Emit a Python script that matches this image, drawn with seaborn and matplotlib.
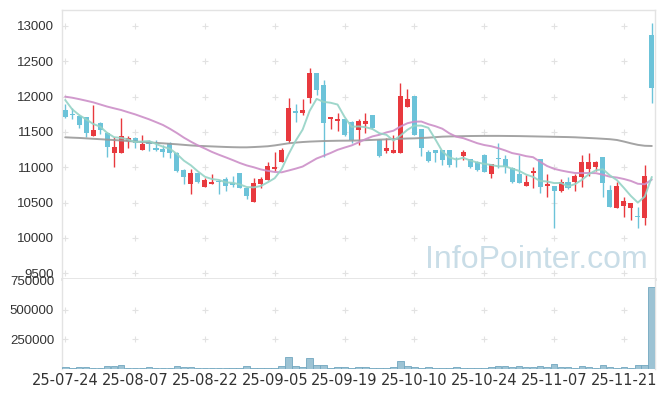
import numpy as np
import pandas as pd
import matplotlib
matplotlib.use("Agg")
import matplotlib.pyplot as plt
import seaborn as sns

# ---------------- data ----------------
opens = [11811, 11750, 11726, 11708, 11448, 11632, 11481, 11198, 11198, 11377,
         11410, 11245, 11363, 11269, 11259, 11349, 11207, 10962, 10764, 10915,
         10726, 10769, 10811, 10835, 10783, 10915, 10712, 10514, 10764, 10821,
         10976, 11080, 11373, 11797, 11764, 11976, 12330, 12165, 11684, 11656,
         11679, 11646, 11528, 11613, 11740, 11387, 11231, 11198, 11198, 11858,
         12009, 11538, 11222, 11245, 11245, 11245, 11132, 11165, 11113, 11080,
         11175, 10906, 11118, 11113, 10986, 10906, 10741, 10915, 11113, 10741,
         10741, 10670, 10797, 10788, 10858, 10972, 11009, 11141, 10679, 10420,
         10458, 10420, 10311, 10278, 12873]
highs = [11900, 11835, 11740, 11717, 11882, 11646, 11505, 11434, 11693, 11443,
         11425, 11457, 11387, 11387, 11316, 11363, 11222, 10972, 10972, 10915,
         10844, 10900, 10821, 10868, 10877, 10924, 10726, 10844, 10858, 11080,
         11212, 11269, 11976, 11891, 11962, 12401, 12330, 12236, 11717, 11764,
         11684, 11656, 11679, 11774, 11745, 11396, 11410, 11458, 12189, 12104,
         12009, 11538, 11245, 11250, 11245, 11250, 11150, 11245, 11120, 11090,
         11190, 11050, 11340, 11175, 11009, 11175, 10892, 11009, 11113, 10906,
         10741, 10830, 10868, 10906, 11175, 11198, 11094, 11141, 10750, 10797,
         10585, 10500, 10434, 11033, 13038]
lows = [11700, 11680, 11552, 11434, 11448, 11472, 11151, 11009, 11198, 11269,
        11269, 11245, 11236, 11236, 11141, 11127, 10939, 10764, 10618, 10774,
        10726, 10769, 10623, 10665, 10726, 10703, 10547, 10514, 10712, 10821,
        10953, 11070, 11340, 11646, 11740, 11906, 12024, 11151, 11538, 11514,
        11443, 11340, 11316, 11490, 11547, 11141, 11198, 11198, 11198, 11858,
        11458, 11160, 11080, 11080, 11033, 11009, 11009, 11104, 10986, 10953,
        10930, 10844, 10986, 10915, 10783, 10774, 10741, 10703, 10632, 10585,
        10137, 10656, 10689, 10670, 10717, 10877, 10953, 10585, 10443, 10420,
        10302, 10255, 10137, 10184, 11915]
closes = [11717, 11735, 11600, 11490, 11528, 11528, 11292, 11292, 11443, 11420,
          11340, 11330, 11325, 11245, 11217, 11198, 10953, 10858, 10915, 10788,
          10821, 10788, 10797, 10741, 10755, 10712, 10599, 10774, 10835, 11019,
          11005, 11245, 11835, 11773, 11811, 12330, 12094, 11623, 11712, 11684,
          11458, 11387, 11656, 11656, 11552, 11160, 11278, 11245, 12009, 11962,
          11458, 11278, 11090, 11198, 11104, 11033, 11127, 11212, 11009, 10962,
          10939, 11047, 11113, 11009, 10797, 10783, 10788, 10948, 10717, 10764,
          10670, 10797, 10703, 10877, 11071, 11071, 11071, 10774, 10443, 10736,
          10524, 10500, 10302, 10877, 12118]
volumes = [14000, 6000, 14000, 14000, 6000, 6000, 23000, 23000, 31000, 6000,
           6000, 6000, 14000, 6000, 6000, 6000, 23000, 14000, 14000, 6000,
           2000, 1000, 6000, 1000, 2000, 6000, 23000, 6000, 2000, 6000,
           2000, 23000, 99000, 23000, 14000, 90000, 31000, 31000, 6000, 14000,
           14000, 6000, 14000, 14000, 6000, 6000, 6000, 14000, 62000, 23000,
           14000, 6000, 14000, 6000, 6000, 6000, 14000, 6000, 6000, 6000,
           6000, 14000, 23000, 23000, 14000, 23000, 14000, 14000, 23000, 14000,
           42000, 14000, 14000, 6000, 23000, 14000, 6000, 28000, 14000, 6000,
           14000, 6000, 28000, 34000, 690000]
# moving-average values before enough history is visible
ma5_head = [11953, 11821, 11740, 11679]
ma20_head = [12000, 11985, 11965, 11943, 11920, 11890, 11860, 11835, 11811, 11780,
             11750, 11715, 11680, 11640, 11599, 11545, 11485, 11420, 11363]
ma_long = [11425, 11420, 11416, 11410, 11404, 11398, 11392, 11386, 11380, 11372,
           11365, 11358, 11352, 11346, 11340, 11333, 11326, 11318, 11310, 11304,
           11300, 11296, 11292, 11288, 11285, 11283, 11283, 11287, 11292, 11298,
           11310, 11325, 11340, 11350, 11358, 11364, 11368, 11372, 11374, 11376,
           11377, 11378, 11380, 11384, 11388, 11392, 11396, 11400, 11404, 11408,
           11410, 11415, 11420, 11427, 11434, 11437, 11439, 11441, 11443, 11444,
           11445, 11445, 11445, 11444, 11443, 11442, 11440, 11438, 11436, 11434,
           11432, 11430, 11428, 11425, 11420, 11415, 11410, 11404, 11398, 11387,
           11365, 11340, 11318, 11305, 11302]
date_tick_pos = [0, 10, 20, 30, 40, 50, 60, 70, 80]
date_tick_labels = ["25-07-24", "25-08-07", "25-08-22", "25-09-05", "25-09-19",
                    "25-10-10", "25-10-24", "25-11-07", "25-11-21"]
price_ticks = [9500, 10000, 10500, 11000, 11500, 12000, 12500, 13000]
volume_ticks = [250000, 500000, 750000]

# ---------------- styling ----------------
UP = "#e8393e"
DOWN = "#6cc3d9"
C_MA5 = "#95d3c6"
C_MA20 = "#cc8fc8"
C_LONG = "#9a9a9a"
SPINE = "#e3e3e3"
TXT = "#333333"

sns.set_theme(style="white")
plt.rcParams["font.family"] = ["Liberation Sans", "DejaVu Sans"]

df = pd.DataFrame({"i": np.arange(len(closes)), "o": opens, "h": highs,
                   "l": lows, "c": closes, "v": volumes})
n = len(df)
ma5 = df["c"].rolling(5).mean().to_numpy()
ma5[:len(ma5_head)] = ma5_head
ma20 = df["c"].rolling(20).mean().to_numpy()
ma20[:len(ma20_head)] = ma20_head
df["ma5"] = ma5
df["ma20"] = ma20
df["malong"] = ma_long

fig = plt.figure(figsize=(6.65, 3.96), dpi=100)
ax = fig.add_axes([0.0928, 0.2962, 0.8926, 0.6785])
axv = fig.add_axes([0.0928, 0.0694, 0.8926, 0.2268])

# grid crosses
gx, gy = np.meshgrid(date_tick_pos, price_ticks)
ax.scatter(gx.ravel(), gy.ravel(), marker="+", s=16, color="#e2e2e2",
           linewidths=0.8, zorder=0.5, clip_on=False)
gx2, gy2 = np.meshgrid(date_tick_pos, volume_ticks[:2])
axv.scatter(gx2.ravel(), gy2.ravel(), marker="+", s=16, color="#e2e2e2",
            linewidths=0.8, zorder=0.5)

# candles
up = df["c"] >= df["o"]
cols = np.where(up, UP, DOWN)
ax.vlines(df["i"], df["l"], df["h"], colors=cols, linewidth=1.0, zorder=2)
body_lo = np.minimum(df["o"], df["c"])
body_h = np.maximum(np.abs(df["c"] - df["o"]), 12)
ax.bar(df["i"], body_h, bottom=body_lo, width=0.72, color=cols,
       linewidth=0, zorder=3)

# moving averages
sns.lineplot(data=df, x="i", y="malong", ax=ax, color=C_LONG, linewidth=1.4,
             alpha=0.9, zorder=4)
sns.lineplot(data=df, x="i", y="ma20", ax=ax, color=C_MA20, linewidth=1.4,
             alpha=0.9, zorder=4)
sns.lineplot(data=df, x="i", y="ma5", ax=ax, color=C_MA5, linewidth=1.4,
             alpha=0.9, zorder=5)

# watermark
ax.text(648 / 665, 1 - 268 / 396, "InfoPointer.com", transform=fig.transFigure,
        ha="right", va="baseline", fontsize=23, color="#c9dde7",
        family=["Liberation Sans Narrow", "Liberation Sans", "DejaVu Sans"],
        zorder=1)

ax.set_xlim(-0.5, n - 0.5)
ax.set_ylim(9424, 13226)
ax.set_xticks(date_tick_pos)
ax.set_xticklabels([])
ax.set_yticks(price_ticks)
ax.set_yticklabels([str(t) for t in price_ticks])
ax.set_xlabel("")
ax.set_ylabel("")
ax.tick_params(axis="both", length=0)
ax.tick_params(axis="y", pad=5.5, labelsize=9.5, labelcolor=TXT)
for side in ["top", "left", "right"]:
    ax.spines[side].set_color(SPINE)
    ax.spines[side].set_linewidth(1.0)
ax.spines["bottom"].set_color(SPINE)
ax.spines["bottom"].set_linewidth(2.0)

# volume
sns.barplot(data=df, x="i", y="v", ax=axv, native_scale=True, width=0.95,
            color="#9dc3d4", edgecolor="#72a7c0", linewidth=0.6,
            saturation=1, errorbar=None, zorder=3)
axv.set_xlim(-0.5, n - 0.5)
axv.set_ylim(0, 761000)
axv.set_yticks(volume_ticks)
axv.set_yticklabels([str(t) for t in volume_ticks])
axv.set_xticks(date_tick_pos)
axv.set_xticklabels(date_tick_labels)
axv.set_xlabel("")
axv.set_ylabel("")
axv.tick_params(axis="both", length=0)
axv.tick_params(axis="y", pad=5.5, labelsize=9.5, labelcolor=TXT)
axv.tick_params(axis="x", pad=3, labelsize=10.5, labelcolor=TXT)
for lab in axv.get_xticklabels():
    lab.set_family(["DejaVu Sans"])
axv.spines["top"].set_visible(False)
axv.spines["bottom"].set_visible(False)
for side in ["left", "right"]:
    axv.spines[side].set_color(SPINE)
    axv.spines[side].set_linewidth(1.0)

fig.savefig("out.png", dpi=100, facecolor="white")
